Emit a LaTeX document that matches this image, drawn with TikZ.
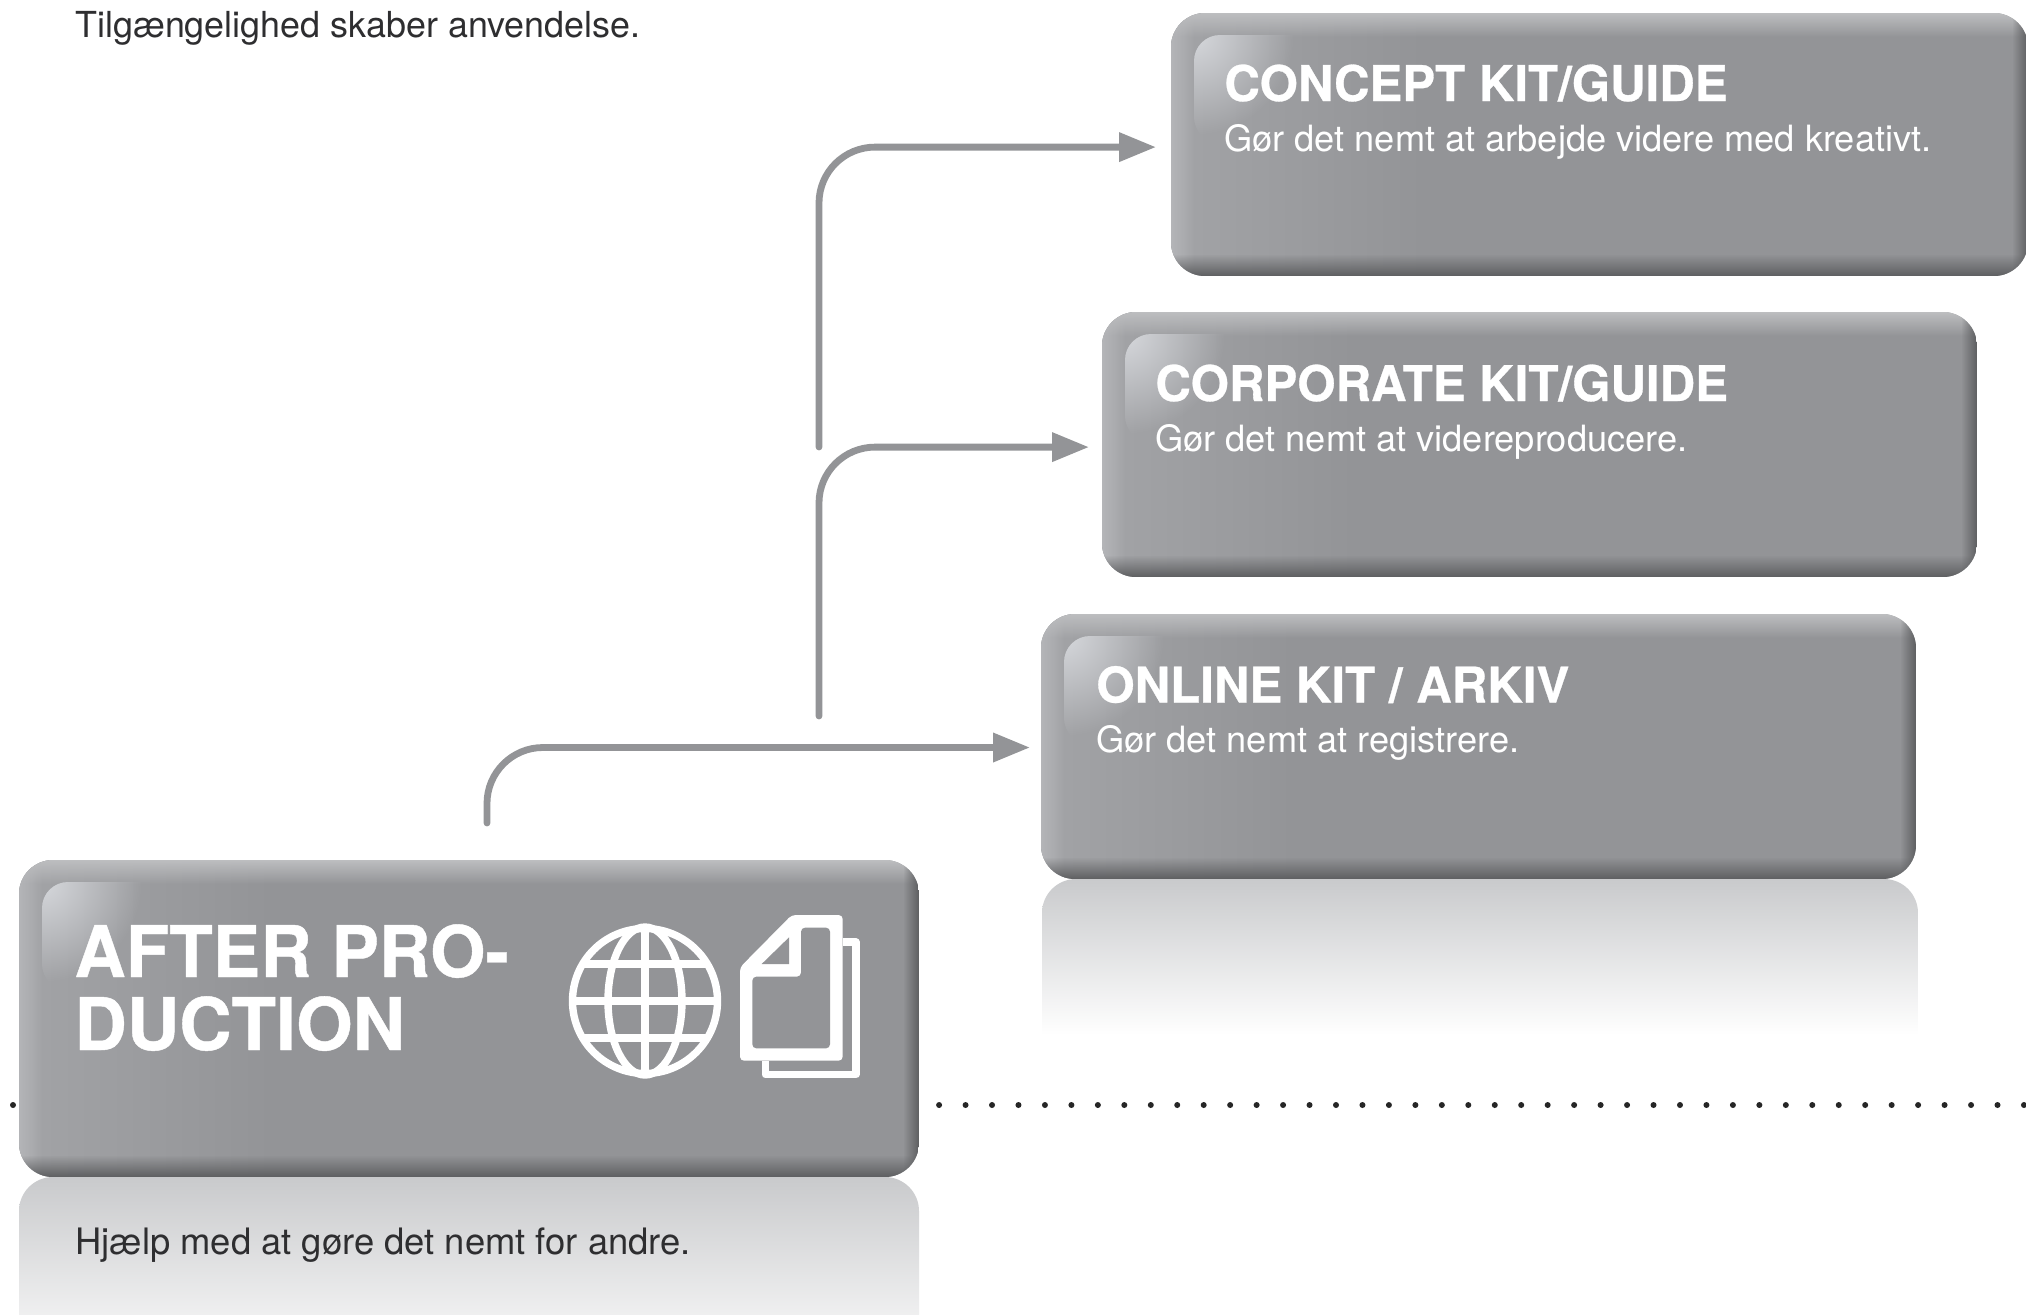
\documentclass[tikz,border=0pt]{standalone}
\usepackage{fontspec}
\setmainfont{TeX Gyre Heros}[BoldFeatures={FakeBold=0.6}]
\usetikzlibrary{arrows.meta,fadings,fit,calc}
\definecolor{boxbase}{HTML}{939497}
\definecolor{boxtop}{HTML}{BDBEC0}
\definecolor{boxbot}{HTML}{5E5F61}
\definecolor{boxleft}{HTML}{A3A4A7}
\definecolor{boxedge}{HTML}{B4B5B8}
\definecolor{boxhl}{HTML}{D6D8DC}
\definecolor{reflA}{HTML}{C9CACC}
\definecolor{bodytxt}{HTML}{2E2E30}
\tikzfading[name=hlfade, inner color=transparent!0, outer color=transparent!100]
\tikzfading[name=fdright, left color=transparent!0, right color=transparent!100]
\tikzfading[name=fdleft, right color=transparent!0, left color=transparent!100]
\tikzfading[name=fddown, top color=transparent!0, bottom color=transparent!100]
\tikzfading[name=fdup, bottom color=transparent!0, top color=transparent!100]
\tikzset{
  anchorbox/.style={inner sep=0pt, outer sep=0pt},
  conn/.style={draw=boxbase, line width=3.4pt, line cap=round, rounded corners=28pt,
    -{Triangle[length=18.5pt,width=14pt]}},
  title/.style={anchor=base west, inner sep=0pt, text=white, font=\fontsize{24.6}{28}\selectfont\bfseries},
  bigtitle/.style={anchor=base west, inner sep=0pt, text=white, font=\fontsize{35.6}{36}\selectfont\bfseries},
  subtitle/.style={anchor=base west, inner sep=0pt, text=white, font=\fontsize{18.1}{22}\selectfont},
  dots/.style={line width=3pt, line cap=round, dash pattern=on 0pt off 13.23pt, draw=black!85},
}
\newcommand{\glossbox}[5]{%
  \begin{scope}
    \clip[rounded corners=17pt] (#2,#3) rectangle (#4,#5);
    \fill[boxbase] (#2,#3) rectangle (#4,#5);
    \pgfmathsetmacro{\xa}{#2+260}\pgfmathsetmacro{\xe}{#2+24}\pgfmathsetmacro{\xb}{#4-16}
    \pgfmathsetmacro{\ya}{#3+24}\pgfmathsetmacro{\yb}{#5-22}
    \fill[boxleft, path fading=fdright] (#2,#3) rectangle (\xa,#5);
    \fill[boxedge, path fading=fdright] (#2,#3) rectangle (\xe,#5);
    \fill[boxtop, path fading=fddown] (#2,#3) rectangle (#4,\ya);
    \fill[boxbot, path fading=fdup] (#2,\yb) rectangle (#4,#5);
    \fill[boxbot, path fading=fdleft] (\xb,#3) rectangle (#4,#5);
  \end{scope}
  \begin{scope}
    \pgfmathsetmacro{\xc}{#2+23}\pgfmathsetmacro{\yc}{#3+22}
    \pgfmathsetmacro{\xd}{#2+170}\pgfmathsetmacro{\yd}{#3+130}
    \clip[rounded corners=13pt] (\xc,\yc) rectangle (\xd,\yd);
    \fill[boxhl, path fading=hlfade] (\xc,\yc) circle[radius=100];
  \end{scope}
  \node[anchorbox, fit={(#2,#3) (#4,#5)}] (#1) {};
}
\begin{document}
\begin{tikzpicture}[x=0.5pt,y=-0.5pt]
\useasboundingbox (0,0) rectangle (2026,1314);
\fill[white] (0,0) rectangle (2026,1314);

% dotted rule
\coordinate (dotL) at (13,1105);
\coordinate (dotR) at (2030,1105);
\draw[dots] (dotL) -- (dotR);

% reflections
\begin{scope}
  \clip[rounded corners=17pt] (19,1177) rectangle (919,1500);
  \shade[top color=reflA, bottom color=reflA!30!white] (19,1177) rectangle (919,1314);
\end{scope}
\begin{scope}
  \clip[rounded corners=17pt] (1042,879) rectangle (1918,1300);
  \shade[top color=reflA, bottom color=white] (1042,879) rectangle (1918,1035);
\end{scope}

% boxes
\glossbox{after}{19}{860}{919}{1177}
\glossbox{online}{1041}{614}{1916}{879}
\glossbox{corporate}{1102}{312}{1977}{577}
\glossbox{concept}{1171}{13}{2028}{276}

% connectors
\coordinate (s1) at (487,823);
\coordinate (s2) at (819,716);
\coordinate (s3) at (819,447);
\draw[conn, shorten >=5.5pt] (s1) |- ([yshift=-0.5pt]online.west);
\draw[conn, shorten >=6.5pt] (s2) |- ([yshift=-1.3pt]corporate.west);
\draw[conn, shorten >=7.5pt] (s3) |- ([yshift=-1.3pt]concept.west);

% texts
\node[anchor=base west, inner sep=0pt, text=bodytxt, font=\fontsize{17.93}{22}\selectfont] (top) at (75,37) {Tilgængelighed skaber anvendelse.};
\node[title] (t1) at (1224,101) {CONCEPT KIT/GUIDE};
\node[subtitle] (s1t) at (1224,151) {Gør det nemt at arbejde videre med kreativt.};
\node[title] (t2) at (1155,401) {CORPORATE KIT/GUIDE};
\node[subtitle] (s2t) at (1155,451) {Gør det nemt at videreproducere.};
\node[title] (t3) at (1096,702.5) {ONLINE KIT / ARKIV};
\node[subtitle] (s3t) at (1096,752) {Gør det nemt at registrere.};
\node[bigtitle] (t4a) at (74,977) {AFTER PRO-};
\node[bigtitle, font=\fontsize{36.3}{36}\selectfont\bfseries] (t4b) at (74,1050) {DUCTION};
\node[anchor=base west, inner sep=0pt, text=bodytxt, font=\fontsize{18.2}{22}\selectfont] (body) at (75,1254) {Hjælp med at gøre det nemt for andre.};

% globe icon
\begin{scope}
  \clip (645,1001) circle[radius=73];
  \draw[white, line width=3.7pt] (572,1001) -- (718,1001);
  \draw[white, line width=3.7pt] (572,964) -- (718,964);
  \draw[white, line width=3.7pt] (572,1038) -- (718,1038);
\end{scope}
\draw[white, line width=3.7pt] (645,925) -- (645,1077);
\draw[white, line width=3.7pt] (645,1001) ellipse[x radius=37, y radius=74];
\draw[white, line width=3.7pt] (645,1001) circle[radius=72.5];

% document icon
\begin{scope}[shift={(540,880)}, x=0.16667pt, y=-0.16667pt]
  \draw[white, line width=3.6pt, line join=round] (908,186) -- (948,186) -- (948,584) -- (676,584) -- (676,542);
  \fill[white, rounded corners=2pt] (600,262) -- (755,105) -- (908,105) -- (908,542) -- (600,542) -- cycle;
  \fill[boxbase] (665,252) -- (747,172) -- (747,252) -- cycle;
  \fill[boxbase, rounded corners=2pt] (783,143) -- (870,143) -- (870,505) -- (637,505) -- (637,290) -- (783,290) -- cycle;
\end{scope}
\end{tikzpicture}
\end{document}
